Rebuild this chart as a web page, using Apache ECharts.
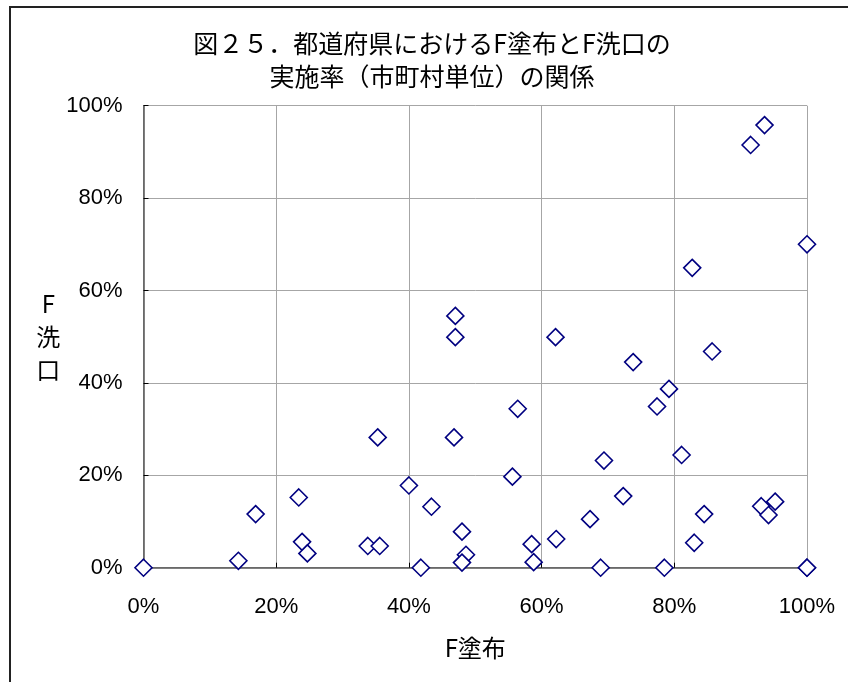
<!DOCTYPE html>
<html>
<head>
<meta charset="utf-8">
<script src="https://cdn.jsdelivr.net/npm/echarts@6/dist/echarts.min.js"></script>
<style>
html,body{margin:0;padding:0;background:#fff;}
#frame{position:absolute;left:9px;top:6px;width:900px;height:800px;border-left:2px solid #222;border-top:2px solid #222;box-sizing:border-box;pointer-events:none;z-index:5;}
#chart{position:absolute;left:0;top:0;width:848px;height:682px;}
</style>
</head>
<body>
<div id="chart"></div>
<div id="frame"></div>
<script>
// F塗布 (x, %) and F洗口 (y, %) per prefecture
const fApplication = [0, 14.3, 16.9, 23.4, 23.9, 24.7, 33.8, 35.6, 35.3, 46.8, 40.0, 43.4, 41.8, 48.0, 48.6, 48.0,
  56.4, 77.4, 55.6, 69.4, 81.1, 72.3, 67.3, 58.5, 58.8, 62.2, 68.9, 78.5, 83.0, 84.5, 93.1, 95.2, 94.2, 100, 100,
  93.6, 91.5, 100, 82.7, 47.0, 47.0, 62.1, 85.7, 73.8, 79.2];
const fMouthwash = [0, 1.5, 11.6, 15.2, 5.6, 3.1, 4.7, 4.7, 28.2, 28.2, 17.8, 13.2, 0, 7.8, 2.8, 1.1,
  34.4, 34.9, 19.7, 23.2, 24.4, 15.5, 10.5, 5.1, 1.2, 6.2, 0, 0, 5.4, 11.6, 13.3, 14.3, 11.4, 0, 0,
  95.8, 91.5, 70, 64.9, 54.5, 49.9, 49.9, 46.8, 44.5, 38.7];
const axisTicks = [0, 20, 40, 60, 80, 100];
const titleText = '図２５．都道府県におけるF塗布とF洗口の\n実施率（市町村単位）の関係';
const xName = 'F塗布';
const yName = 'F\n洗\n口';

const points = fApplication.map((x, i) => [x, fMouthwash[i]]);
const labelFont = '"Liberation Sans", Arial, sans-serif';
const cjkFont = '"Noto Sans CJK JP", "Noto Sans", sans-serif';

const chart = echarts.init(document.getElementById('chart'), null, {renderer: 'canvas'});
const axisCommon = {
  type: 'value',
  min: axisTicks[0],
  max: axisTicks[axisTicks.length - 1],
  interval: axisTicks[1] - axisTicks[0],
  axisLine: {show: true, lineStyle: {color: '#555', width: 1.5}},
  axisTick: {show: true, inside: true, length: 5, lineStyle: {color: '#000', width: 1}},
  splitLine: {show: true, lineStyle: {color: '#a6a6a6', width: 1}},
  axisLabel: {formatter: '{value}%', color: '#000', fontFamily: labelFont, fontSize: 22}
};
chart.setOption({
  animation: false,
  backgroundColor: '#fff',
  title: {
    text: titleText,
    left: 427,
    top: 22,
    textAlign: 'center',
    textStyle: {fontFamily: cjkFont, fontSize: 25, fontWeight: 'normal', color: '#000', lineHeight: 33}
  },
  grid: {left: 143.5, right: 41, top: 105.7, bottom: 114.3, containLabel: false},
  xAxis: Object.assign({}, axisCommon, {
    name: xName,
    nameLocation: 'middle',
    nameGap: 80,
    nameTextStyle: {fontFamily: cjkFont, fontSize: 24, color: '#000', verticalAlign: 'middle'},
    axisLabel: Object.assign({}, axisCommon.axisLabel, {margin: 28})
  }),
  yAxis: Object.assign({}, axisCommon, {
    name: yName,
    nameLocation: 'middle',
    nameRotate: 0,
    nameGap: 92,
    nameTextStyle: {fontFamily: cjkFont, fontSize: 24, color: '#000', align: 'center', verticalAlign: 'middle', lineHeight: 33, padding: [5, 0, 0, 0]},
    axisLabel: Object.assign({}, axisCommon.axisLabel, {margin: 21})
  }),
  series: [{
    type: 'scatter',
    data: points,
    symbol: 'diamond',
    symbolSize: 17,
    clip: false,
    itemStyle: {color: '#fff', borderColor: '#000080', borderWidth: 1.6, opacity: 1}
  }]
});
</script>
</body>
</html>
